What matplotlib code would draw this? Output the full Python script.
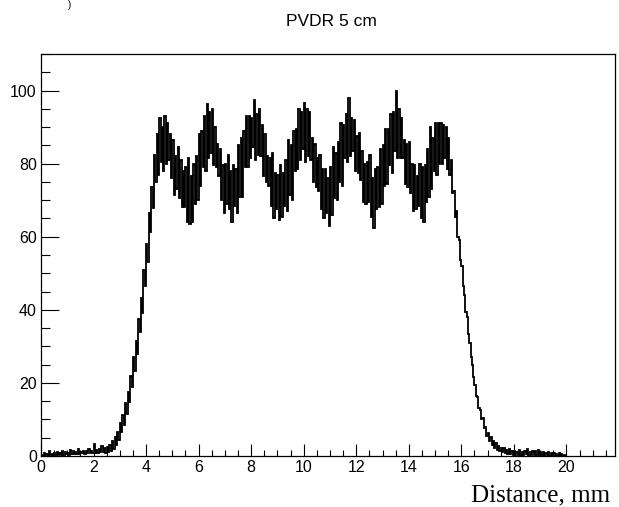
import numpy as np
import matplotlib
matplotlib.use("Agg")
import matplotlib.pyplot as plt
from matplotlib.ticker import MultipleLocator

title = "PVDR 5 cm"
x_label = "Distance, mm"
bin_width = 0.1   # mm, histogram bins
x_start = 0.0

# upper / lower envelope of the noisy histogram in each 0.1 mm bin
baseline_hi = [0.4, 0.8, 0.5, 1.3, 0.6, 0.9, 1.1, 0.7, 1.5, 1.2, 0.9, 1.6,
               1.3, 1.0, 1.8, 1.2, 1.5, 1.4, 1.9, 1.3, 3.4, 1.7, 2.0, 2.6]
baseline_lo = [0.0, 0.0, 0.1, 0.2, 0.1, 0.3, 0.2, 0.4, 0.3, 0.5, 0.4, 0.5,
               0.6, 0.5, 0.6, 0.7, 0.6, 0.7, 0.8, 0.7, 0.9, 0.8, 1.0, 1.1]
rise_hi = [2.1, 2.5, 3.1, 4.0, 5.2, 6.5, 9.1, 11.3, 14.6, 17.5, 21.9, 27.0,
           31.5, 37.5, 43.3, 51.0, 58.0, 66.5, 73.5, 82.5]
rise_lo = [0.8, 1.0, 1.4, 2.0, 3.0, 4.3, 6.5, 8.6, 11.6, 14.7, 19.0, 23.2,
           28.0, 33.8, 39.2, 46.6, 53.2, 61.3, 67.8, 75.0]
plateau_hi = [88, 92.5, 90, 93, 91, 88, 86.5, 82, 84.5, 81,
              78, 79, 81.5, 76.5, 80, 82, 88, 89, 93, 96.4,
              94, 95, 90, 85.5, 84, 79.5, 80, 82.5, 78, 79.5,
              78.5, 85, 87, 89, 93, 93, 92.5, 97.5, 93.5, 95,
              90.5, 88, 82, 81.5, 83, 77.5, 77, 79.5, 77.5, 81,
              86.5, 85, 89, 89.5, 95, 94, 96.5, 95, 94, 87,
              85.5, 81.5, 82.5, 78.5, 78.5, 76, 79, 84.5, 83, 86,
              91, 90.5, 93.5, 98, 92.5, 92, 87.5, 88.5, 83.5, 80,
              80.5, 82.5, 76, 78.5, 79, 84, 85, 89.5, 89.5, 93.5,
              94, 99.8, 95, 92.5, 86.5, 85.5, 86, 80, 79.5, 76.5,
              80, 79, 79.5, 84, 90, 87, 91, 91, 91, 90.5,
              90, 87]
plateau_lo = [77, 80.5, 78, 80, 81, 76, 71.5, 73, 70.5, 68,
              68, 64, 63.5, 64, 69, 70, 74, 79, 78, 81.5,
              83, 79.5, 79, 76.5, 70, 66.5, 69, 67.5, 64, 68.5,
              66.5, 71, 71, 79, 79, 81.5, 84.5, 81, 82.5, 82,
              76.5, 75, 74, 68.5, 65, 67.5, 64.5, 65.5, 68.5, 67,
              71.5, 70, 78, 78.5, 81, 84, 80.5, 82, 81, 75,
              73.5, 72.5, 67.5, 65, 66.5, 63, 66, 70.5, 70, 75,
              74, 81.5, 80.5, 82, 83.5, 78, 77.5, 75.5, 69.5, 69,
              69.5, 65.5, 62.5, 67.5, 68, 69, 74, 74.5, 79.5, 77.5,
              83.5, 81.5, 81.5, 81.5, 74.5, 73.5, 72, 67, 67.5, 68.5,
              65, 64, 69.5, 71, 73, 78, 77, 80, 80, 81.5,
              78.5, 77]
fall_hi = [81, 72.5, 67, 59, 52, 44, 38, 31, 25, 19.5, 16.1, 12.7, 10.3,
           8.0, 6.3, 5.2, 4.0, 3.5, 2.8, 2.3, 2.2, 1.7, 1.8, 1.4, 1.5]
fall_lo = [72, 65.5, 60, 53.5, 46.5, 39.5, 33.5, 27, 21.5, 16.5, 13, 10, 7.7,
           5.5, 4.2, 3.1, 2.2, 1.7, 1.3, 1.0, 0.7, 0.5, 0.5, 0.4, 0.3]
tail_hi = [1.2, 1.6, 1.0, 1.4, 1.8, 1.1, 1.5, 1.3, 1.7, 1.0, 1.2, 0.8, 1.1,
           0.7, 0.9, 0.5, 0.8, 0.6, 0.4]
tail_lo = [0.3, 0.4, 0.2, 0.5, 0.3, 0.4, 0.2, 0.3, 0.4, 0.2, 0.1, 0.2, 0.1,
           0.2, 0.0, 0.1, 0.0, 0.0, 0.0]

upper = baseline_hi + rise_hi + plateau_hi + fall_hi + tail_hi
lower = baseline_lo + rise_lo + plateau_lo + fall_lo + tail_lo

W, H = 619, 507
fig = plt.figure(figsize=(W / 100, H / 100), dpi=100)
fig.patch.set_facecolor("white")
ax = fig.add_axes([41 / W, (H - 456) / H, (615 - 41) / W, (456 - 54) / H])

n = len(upper)
edges = x_start + np.arange(2 * n + 1) * bin_width / 2
vals = np.empty(2 * n)
vals[0::2] = upper
vals[1::2] = lower
ax.stairs(vals, edges, color="black", lw=1.3, baseline=None)

ax.set_xlim(0, 21.85)
ax.set_ylim(0, 110)

ax.xaxis.set_major_locator(MultipleLocator(2))
ax.xaxis.set_minor_locator(MultipleLocator(0.5))
ax.yaxis.set_major_locator(MultipleLocator(20))
ax.yaxis.set_minor_locator(MultipleLocator(5))

ax.tick_params(axis="x", which="major", direction="in", length=9, width=0.8,
               pad=3, top=False)
ax.tick_params(axis="x", which="minor", direction="in", length=4.5, width=0.8,
               top=False)
ax.tick_params(axis="y", which="major", direction="in", length=13, width=0.8,
               pad=3, right=False)
ax.tick_params(axis="y", which="minor", direction="in", length=6.5, width=0.8,
               right=False)
for lbl in ax.get_xticklabels() + ax.get_yticklabels():
    lbl.set_fontfamily(["Liberation Sans", "DejaVu Sans"])
    lbl.set_fontsize(11.5)

for sp in ax.spines.values():
    sp.set_linewidth(0.9)
    sp.set_color("black")

fig.text(331 / W, 1 - 22 / H, title, ha="center", va="center",
         family=["Liberation Sans", "DejaVu Sans"], size=12.5)
fig.text(541 / W, 1 - 501 / H, x_label, ha="center", va="baseline",
         family=["Liberation Serif", "DejaVu Serif"], size=18)
fig.text(70 / W, 1.0, ")", ha="center", va="top",
         family=["Liberation Sans", "DejaVu Sans"], size=7)

fig.savefig("out.png", dpi=100, facecolor="white")
